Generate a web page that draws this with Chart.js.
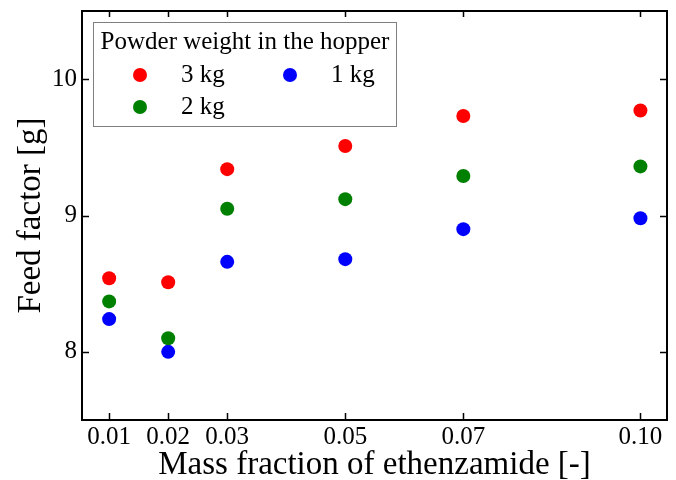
<!DOCTYPE html>
<html>
<head>
<meta charset="utf-8">
<script src="https://cdn.jsdelivr.net/npm/chart.js@4/dist/chart.umd.min.js"></script>
<style>
  html, body { margin: 0; padding: 0; background: #fff; }
  #wrap { width: 676px; height: 480px; }
</style>
</head>
<body>
<div id="wrap"><canvas id="chart"></canvas></div>
<script>
// data
const massFraction = [0.01, 0.02, 0.03, 0.05, 0.07, 0.10];
const feed3kg = [8.54, 8.51, 9.34, 9.51, 9.73, 9.77];
const feed2kg = [8.37, 8.10, 9.05, 9.12, 9.29, 9.36];
const feed1kg = [8.24, 8.00, 8.66, 8.68, 8.90, 8.98];
const seriesLabels = ['3 kg', '2 kg', '1 kg'];
const seriesColors = ['#ff0000', '#008000', '#0000ff'];
const xTicks = [0.01, 0.02, 0.03, 0.05, 0.07, 0.10];
const yTicks = [8, 9, 10];

const FONT = '"Liberation Serif", "Times New Roman", serif';

const toPoints = ys => massFraction.map((x, i) => ({ x: x, y: ys[i] }));

// frame + inward ticks on all four sides, matplotlib style
const frameTicks = {
  id: 'frameTicks',
  afterDraw(chart) {
    const { ctx, chartArea: a, scales } = chart;
    ctx.save();
    ctx.strokeStyle = '#000';
    ctx.lineWidth = 2;
    ctx.strokeRect(a.left, a.top, a.right - a.left, a.bottom - a.top);
    ctx.beginPath();
    xTicks.forEach(v => {
      const px = Math.round(scales.x.getPixelForValue(v)) + 0.5;
      ctx.moveTo(px, a.bottom); ctx.lineTo(px, a.bottom - 7);
      ctx.moveTo(px, a.top); ctx.lineTo(px, a.top + 6);
    });
    yTicks.forEach(v => {
      const py = Math.round(scales.y.getPixelForValue(v)) + 0.5;
      ctx.moveTo(a.left, py); ctx.lineTo(a.left + 7, py);
      ctx.moveTo(a.right, py); ctx.lineTo(a.right - 7, py);
    });
    ctx.lineWidth = 1.5;
    ctx.stroke();
    ctx.restore();
  }
};

// legend box with a title and two columns (3 kg, 2 kg | 1 kg)
const boxLegend = {
  id: 'boxLegend',
  afterDraw(chart) {
    const ctx = chart.ctx;
    const ds = chart.data.datasets;
    ctx.save();
    ctx.fillStyle = '#fff';
    ctx.fillRect(93.5, 22.5, 303, 104);
    ctx.strokeStyle = '#7f7f7f';
    ctx.lineWidth = 1;
    ctx.strokeRect(93.5, 22.5, 303, 104);
    ctx.fillStyle = '#000';
    ctx.font = '25px ' + FONT;
    ctx.textAlign = 'center';
    ctx.textBaseline = 'middle';
    ctx.fillText('Powder weight in the hopper', 245, 42);
    const slots = [[140, 75], [140, 107], [290, 75]];
    ds.forEach((d, i) => {
      const [mx, my] = slots[i];
      ctx.beginPath();
      ctx.arc(mx, my, 7, 0, Math.PI * 2);
      ctx.fillStyle = d.backgroundColor;
      ctx.fill();
      ctx.fillStyle = '#000';
      ctx.textAlign = 'left';
      ctx.fillText(d.label, mx + 41, my);
    });
    ctx.restore();
  }
};

new Chart(document.getElementById('chart'), {
  type: 'scatter',
  data: {
    datasets: [feed3kg, feed2kg, feed1kg].map((ys, i) => ({
      label: seriesLabels[i],
      data: toPoints(ys),
      backgroundColor: seriesColors[i],
      borderColor: seriesColors[i],
      borderWidth: 0,
      pointRadius: 7,
      pointHoverRadius: 7
    }))
  },
  options: {
    responsive: true,
    maintainAspectRatio: false,
    animation: false,
    layout: { padding: { top: 11, right: 9, left: 0, bottom: 0 } },
    plugins: { legend: { display: false }, tooltip: { enabled: false } },
    scales: {
      x: {
        type: 'linear',
        min: 0.0054,
        max: 0.1045,
        grid: { display: false, drawTicks: false },
        border: { display: false },
        afterBuildTicks: s => { s.ticks = xTicks.map(v => ({ value: v })); },
        afterFit: s => { s.height = 60; s.paddingLeft = 0; s.paddingRight = 0; },
        ticks: {
          color: '#000',
          padding: 2,
          maxRotation: 0,
          autoSkip: false,
          font: { family: FONT, size: 25 },
          callback: v => v.toFixed(2)
        },
        title: {
          display: true,
          text: 'Mass fraction of ethenzamide [-]',
          color: '#000',
          font: { family: FONT, size: 33, lineHeight: 0.9 },
          padding: { top: 0, bottom: 0 }
        }
      },
      y: {
        min: 7.5,
        max: 10.5,
        grid: { display: false, drawTicks: false },
        border: { display: false },
        afterBuildTicks: s => { s.ticks = yTicks.map(v => ({ value: v })); },
        afterFit: s => { s.width = 82; s.paddingTop = 0; s.paddingBottom = 0; },
        ticks: {
          color: '#000',
          padding: 5,
          font: { family: FONT, size: 25 }
        },
        title: {
          display: true,
          text: 'Feed factor [g]',
          color: '#000',
          font: { family: FONT, size: 33 },
          padding: { top: 12, bottom: 0 }
        }
      }
    }
  },
  plugins: [frameTicks, boxLegend]
});
</script>
</body>
</html>
